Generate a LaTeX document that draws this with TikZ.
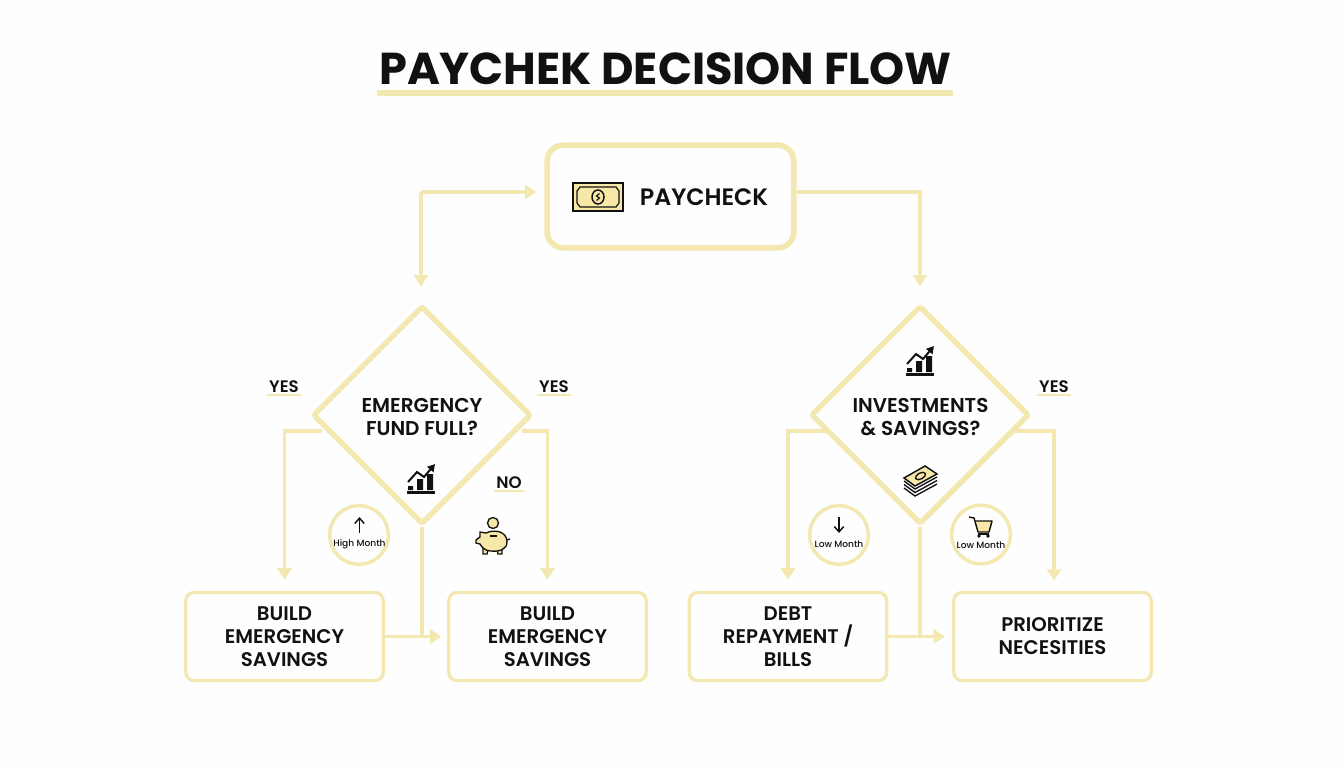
\documentclass[tikz,border=0pt]{standalone}
\usepackage{fontspec}
\setmainfont{Poppins}
\newfontfamily\semifont{Poppins SemiBold}
\newfontfamily\midfont{Poppins Medium}
\usetikzlibrary{arrows.meta,shapes.geometric}
\definecolor{butter}{HTML}{F3E8B0}
\definecolor{iconfill}{HTML}{F8E8A8}
\definecolor{ink}{HTML}{111111}
\definecolor{paper}{HTML}{FDFEFD}
\tikzset{
	outcome/.style={draw=butter,line width=2.4pt,rounded corners=6pt,minimum width=148pt,minimum height=66pt,align=center,text=ink,inner sep=0pt,font=\semifont\fontsize{14.8}{17.2}\selectfont},
	decision/.style={draw=butter,line width=4pt,diamond,aspect=1,rounded corners=2pt,minimum width=164pt,minimum height=164pt,inner sep=0pt},
	question/.style={align=center,text=ink,inner sep=0pt,font=\semifont\fontsize{15}{17}\selectfont},
	flow/.style={draw=butter,line width=2.3pt},
	flowtip/.style={flow,-{Triangle[length=8.5pt,width=10.5pt]}},
	branch/.style={text=ink,inner sep=1.5pt,font=\semifont\fontsize{12.5}{14}\selectfont},
	underrule/.style={draw=butter,line width=1.5pt},
	badge/.style={circle,draw=butter,line width=2.6pt,minimum size=44pt,inner sep=0pt},
	tiny/.style={text=ink,inner sep=0pt,font=\midfont\fontsize{6.8}{8}\selectfont},
	charticon/.pic={
		\fill[ink] (-13,8) rectangle (-8,12) (-4,1) rectangle (2,12) (6,-4) rectangle (12,12);
		\draw[ink,line width=1.6pt] (-14,14.5)--(14,14.5);
		\draw[ink,line width=1.5pt,-{Triangle[length=5.5pt,width=6pt]}] (-13,4)--(-4,-6)--(3,-1)--(14,-14);
	},
}
\begin{document}
\begin{tikzpicture}[x=0.75pt,y=-0.75pt]
	\useasboundingbox (0,0) rectangle (1344,768);
	\fill[paper] (0,0) rectangle (1344,768);

	\node[text=ink,inner sep=0pt,font=\bfseries\fontsize{33.5}{40}\selectfont] (title) at (665.5,69) {PAYCHEK DECISION FLOW};
	\coordinate (ruleL) at (377,93);
	\coordinate (ruleR) at (953,93);
	\draw[draw=butter,line width=3.8pt] (ruleL)--(ruleR);

	\node[draw=butter,line width=4.2pt,rounded corners=12pt,minimum width=185pt,minimum height=77pt] (pay) at (670.5,196.5) {};
	\node[text=ink,inner sep=0pt,font=\semifont\fontsize{17.8}{20}\selectfont] (payLabel) at (704,197) {PAYCHECK};

	\node[decision] (dLeft) at (422,415) {};
	\node[decision] (dRight) at (920,415) {};
	\node[question] (qLeft) at (422,417) {EMERGENCY\\FUND FULL?};
	\node[question] (qRight) at (920.5,417) {INVESTMENTS\\\& SAVINGS?};

	\node[outcome] (bOne) at (284.5,636.5) {BUILD\\EMERGENCY\\SAVINGS};
	\node[outcome] (bTwo) at (547.5,636.5) {BUILD\\EMERGENCY\\SAVINGS};
	\node[outcome] (bThree) at (788,636.5) {DEBT\\REPAYMENT /\\BILLS};
	\node[outcome] (bFour) at (1052.5,636.5) {PRIORITIZE\\NECESITIES};

	\coordinate (turnL) at (421,192);
	\coordinate (turnR) at (920,192);
	\draw[flowtip,shorten >=6pt] (turnL)--(pay.west |- turnL);
	\draw[flowtip,shorten >=12.5pt] (turnL)--(dLeft.north -| turnL);
	\draw[flowtip,shorten >=12.5pt] (pay.east |- turnR)--(turnR)--(dRight.north);

	\coordinate (dLa) at (322,431);
	\coordinate (dLb) at (522,431);
	\coordinate (dRa) at (828,431);
	\coordinate (dRb) at (1012,431);
	\coordinate (bFourTop) at (1054,592);
	\draw[flowtip,shorten >=8.5pt] (dLa)-|(bOne.north);
	\draw[flowtip,shorten >=8.5pt] (dLb)-|(bTwo.north);
	\draw[flowtip,shorten >=8.5pt] (dRa)-|(bThree.north);
	\draw[flowtip,shorten >=8.5pt] (dRb)-|(bFourTop);

	\draw[flowtip,shorten >=4.5pt] (bOne.east)--(bTwo.west);
	\draw[flowtip,shorten >=5.5pt] (bThree.east)--(bFour.west);
	\draw[flow] (dLeft.south)--(dLeft.south |- bOne.east);
	\draw[flow] (dRight.south)--(dRight.south |- bThree.east);

	\node[branch] (yesA) at (284,387) {YES};
	\node[branch] (yesB) at (554,387) {YES};
	\node[branch] (noA) at (509,483) {NO};
	\node[branch] (yesC) at (1054,387) {YES};
	\draw[underrule] (yesA.south west)--(yesA.south east);
	\draw[underrule] (yesB.south west)--(yesB.south east);
	\draw[underrule] (noA.south west)--(noA.south east);
	\draw[underrule] (yesC.south west)--(yesC.south east);

	\node[badge] (cHigh) at (359,535) {};
	\node[badge] (cLow) at (839,535) {};
	\node[badge] (cCart) at (981,534.5) {};
	\node[tiny] (tHigh) at (359.5,544) {High Month};
	\node[tiny] (tLow) at (839,544.5) {Low Month};
	\node[tiny] (tCart) at (981,545) {Low Month};
	\coordinate (upA) at (359.5,533);
	\coordinate (upB) at (359.5,517);
	\coordinate (downA) at (839,517);
	\coordinate (downB) at (839,533);
	\draw[ink,line width=1.1pt,-{Straight Barb[length=4pt,width=7pt]}] (upA)--(upB);
	\draw[ink,line width=1.1pt,-{Straight Barb[length=4pt,width=7pt]}] (downA)--(downB);

	\pic at (421,478) {charticon};
	\pic at (920,360) {charticon};

	\begin{scope}[shift={(598,197)}]
		\draw[ink,line width=1.4pt,fill=iconfill] (-25,-14) rectangle (25,14);
		\draw[ink,line width=0.9pt] (-18,-10)--(18,-10)--(21,-6)--(21,6)--(18,10)--(-18,10)--(-21,6)--(-21,-6)--cycle;
		\draw[ink,line width=1.1pt,fill=iconfill] (0,0) circle[x radius=6,y radius=7];
		\draw[ink,line width=0.9pt] (1.5,-3.5)--(-1.5,-1)--(1.5,1)--(-1.5,3.5);
	\end{scope}

	\begin{scope}[shift={(492,540)}]
		\draw[ink,line width=1pt,fill=iconfill] (1,-17) circle[radius=5.5];
		\draw[ink,line width=1pt,fill=iconfill] (-9,7)--(-9,14)--(-5,14)--(-4,10)--(5,10)--(6,14)--(10,14)--(10,7)--cycle;
		\draw[ink,line width=1pt,fill=iconfill] (-16,0)--(-12,-3)--(-12,-8)--(-6,-7) .. controls (2,-11) and (15,-9) .. (15,2) .. controls (15,9) and (8,12) .. (-1,11) .. controls (-6,11) and (-10,8) .. (-12,4)--(-16,3)--cycle;
		\draw[ink,line width=1pt] (-2,-4)--(5,-4);
		\draw[ink,line width=1pt] (15,0)--(18,-1);
	\end{scope}

	\begin{scope}[shift={(920,482)}]
		\draw[ink,line width=1pt] (-16,6)--(-5,14)--(17,2);
		\draw[ink,line width=1pt] (-16,2.5)--(-5,10.5)--(17,-1.5);
		\draw[ink,line width=1pt] (-16,-1)--(-5,7)--(17,-5);
		\draw[ink,line width=1.1pt,fill=iconfill] (-16,-4)--(5,-16)--(17,-8)--(-5,4)--cycle;
		\draw[ink,line width=1pt,fill=iconfill] (0.5,-6) circle[x radius=5.5,y radius=3,rotate=28];
	\end{scope}

	\begin{scope}[shift={(981,527)}]
		\fill[iconfill] (-6,-6)--(11,-6)--(8,5)--(-3,5)--cycle;
		\draw[ink,line width=1.1pt,line join=round] (-12,-10)--(-7,-9)--(-3,5)--(8,5)--(11,-6)--(-6,-6);
		\draw[ink,line width=1.1pt] (-3,7)--(8,7);
		\fill[ink] (-2,9) circle[radius=1.8] (7,9) circle[radius=1.8];
	\end{scope}
\end{tikzpicture}
\end{document}
